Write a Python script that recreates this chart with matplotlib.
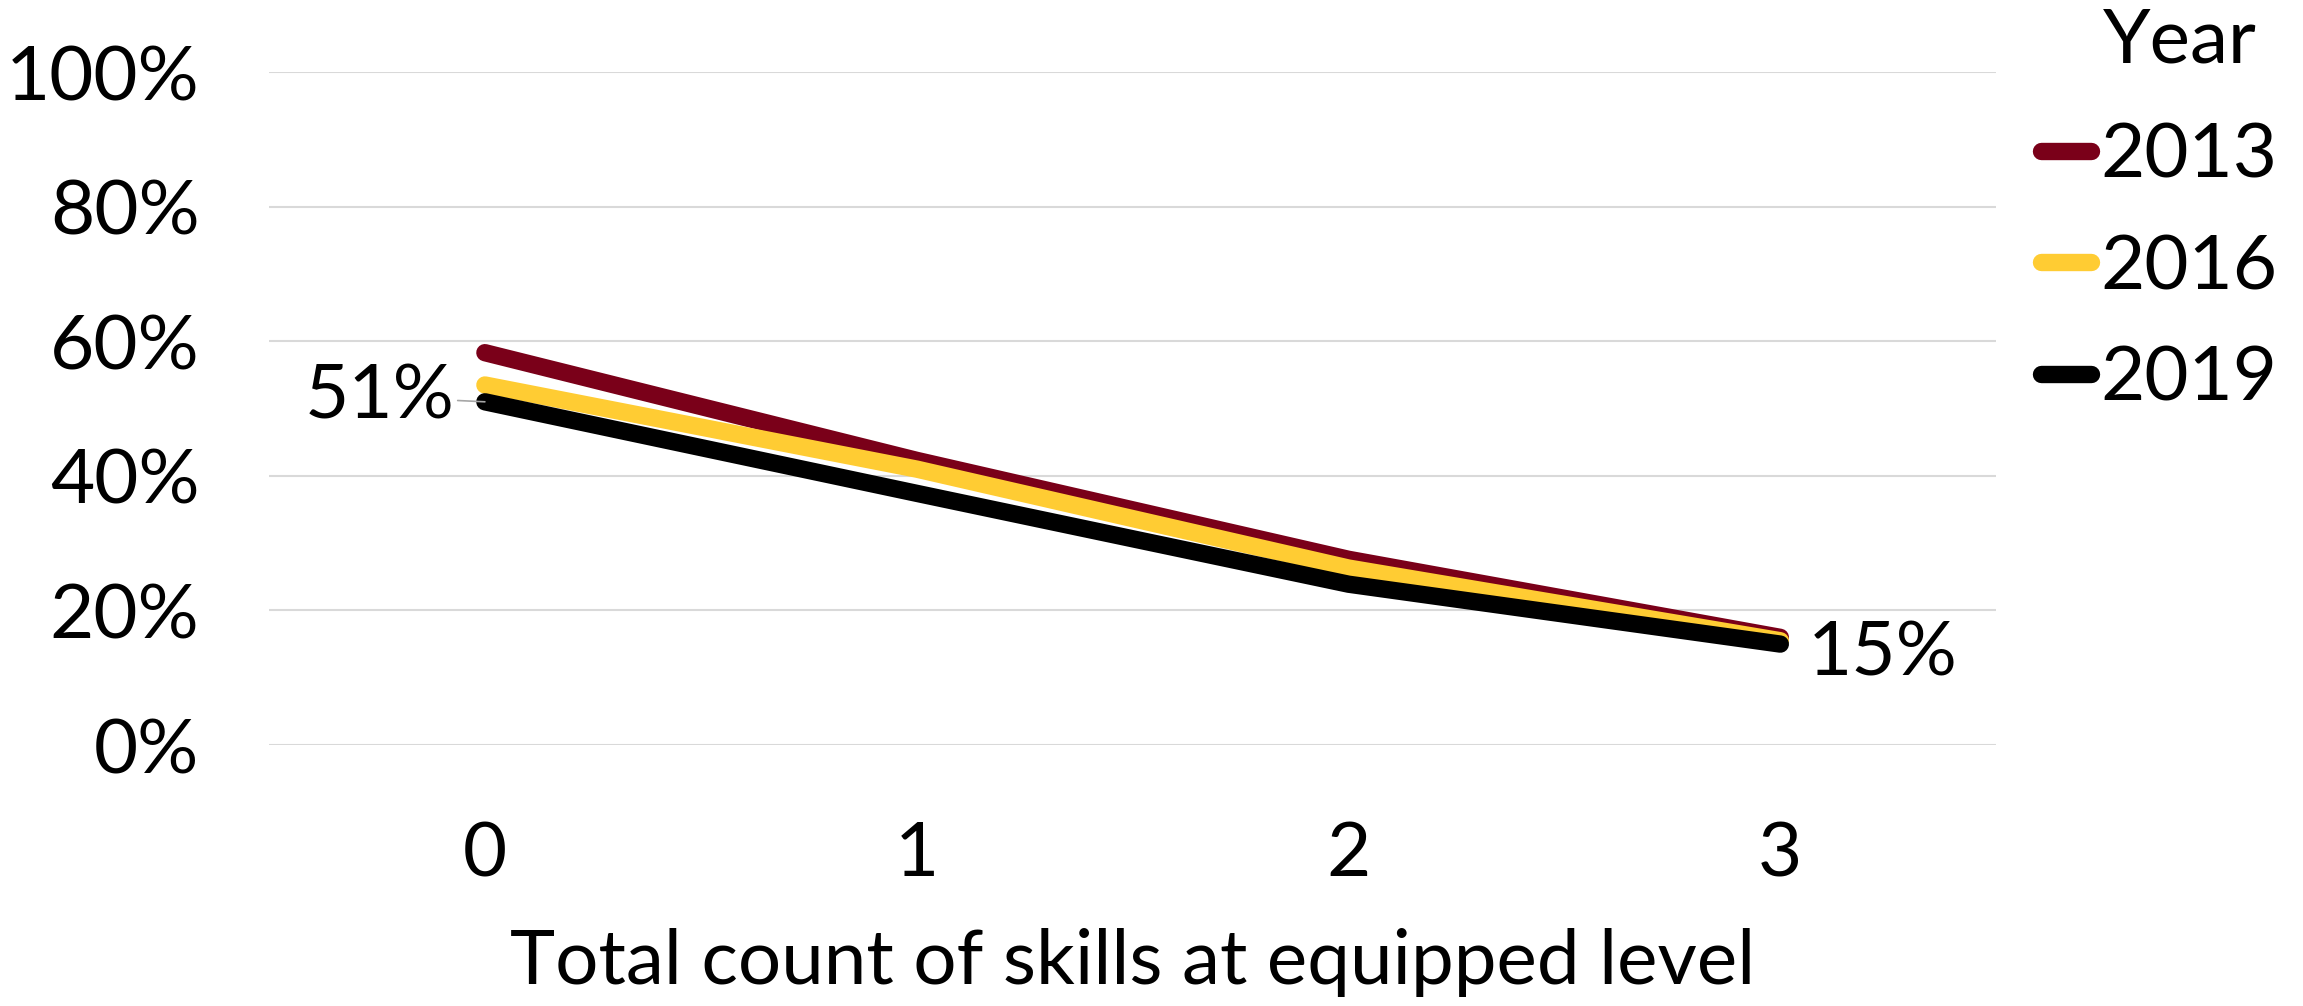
import numpy as np
import matplotlib
matplotlib.use("Agg")
import matplotlib.pyplot as plt
from matplotlib.ticker import PercentFormatter

# values
skills = [0, 1, 2, 3]
years = ["2013", "2016", "2019"]
share_2013 = [0.583, 0.423, 0.276, 0.160]
share_2016 = [0.535, 0.410, 0.263, 0.155]
share_2019 = [0.510, 0.374, 0.239, 0.150]
colors = ["#7A0019", "#FFCC33", "#000000"]

plt.rcParams['font.family'] = ['Lato', 'DejaVu Sans']
FS = 55

fig = plt.figure(figsize=(23.03, 10.06), dpi=100)
ax = fig.add_axes([0.1168, 0.2594, 0.75, 0.6690])

for label, vals, c in zip(years, [share_2013, share_2016, share_2019], colors):
    ax.plot(skills, vals, color=c, lw=12.5, solid_capstyle='round', label=label)

ax.set_xlim(-0.5, 3.5)
ax.set_ylim(0, 1)
ax.set_yticks(np.arange(0, 1.01, 0.2))
ax.yaxis.set_major_formatter(PercentFormatter(1.0, decimals=0))
ax.set_xticks(skills)
ax.grid(axis='y', color='#d9d9d9', lw=1.5)
ax.set_axisbelow(True)
for s in ax.spines.values():
    s.set_visible(False)
ax.tick_params(axis='both', length=0, labelsize=FS)
ax.tick_params(axis='y', pad=50)
ax.tick_params(axis='x', pad=54)
ax.set_xlabel("Total count of skills at equipped level", fontsize=FS, labelpad=28)

# data labels
ax.annotate("51%", xy=(0, share_2019[0]), xytext=(-30, 5), textcoords='offset pixels',
            ha='right', va='center', fontsize=FS,
            arrowprops=dict(arrowstyle='-', color='#a6a6a6', lw=1.2, shrinkA=0, shrinkB=0))
ax.annotate("15%", xy=(3, share_2019[3]), xytext=(27, -10), textcoords='offset pixels',
            ha='left', va='center', fontsize=FS)

# legend: title sits above the labels, not the handles
fig.text(0.9132, 0.959, "Year", fontsize=FS, ha='left', va='center')
fig.legend(loc='upper left', bbox_to_anchor=(0.883, 0.887), frameon=False,
           fontsize=FS, handlelength=0.65, handletextpad=0.12, labelspacing=0.56,
           borderaxespad=0, borderpad=0.1)

fig.savefig("out.png", dpi=100)
